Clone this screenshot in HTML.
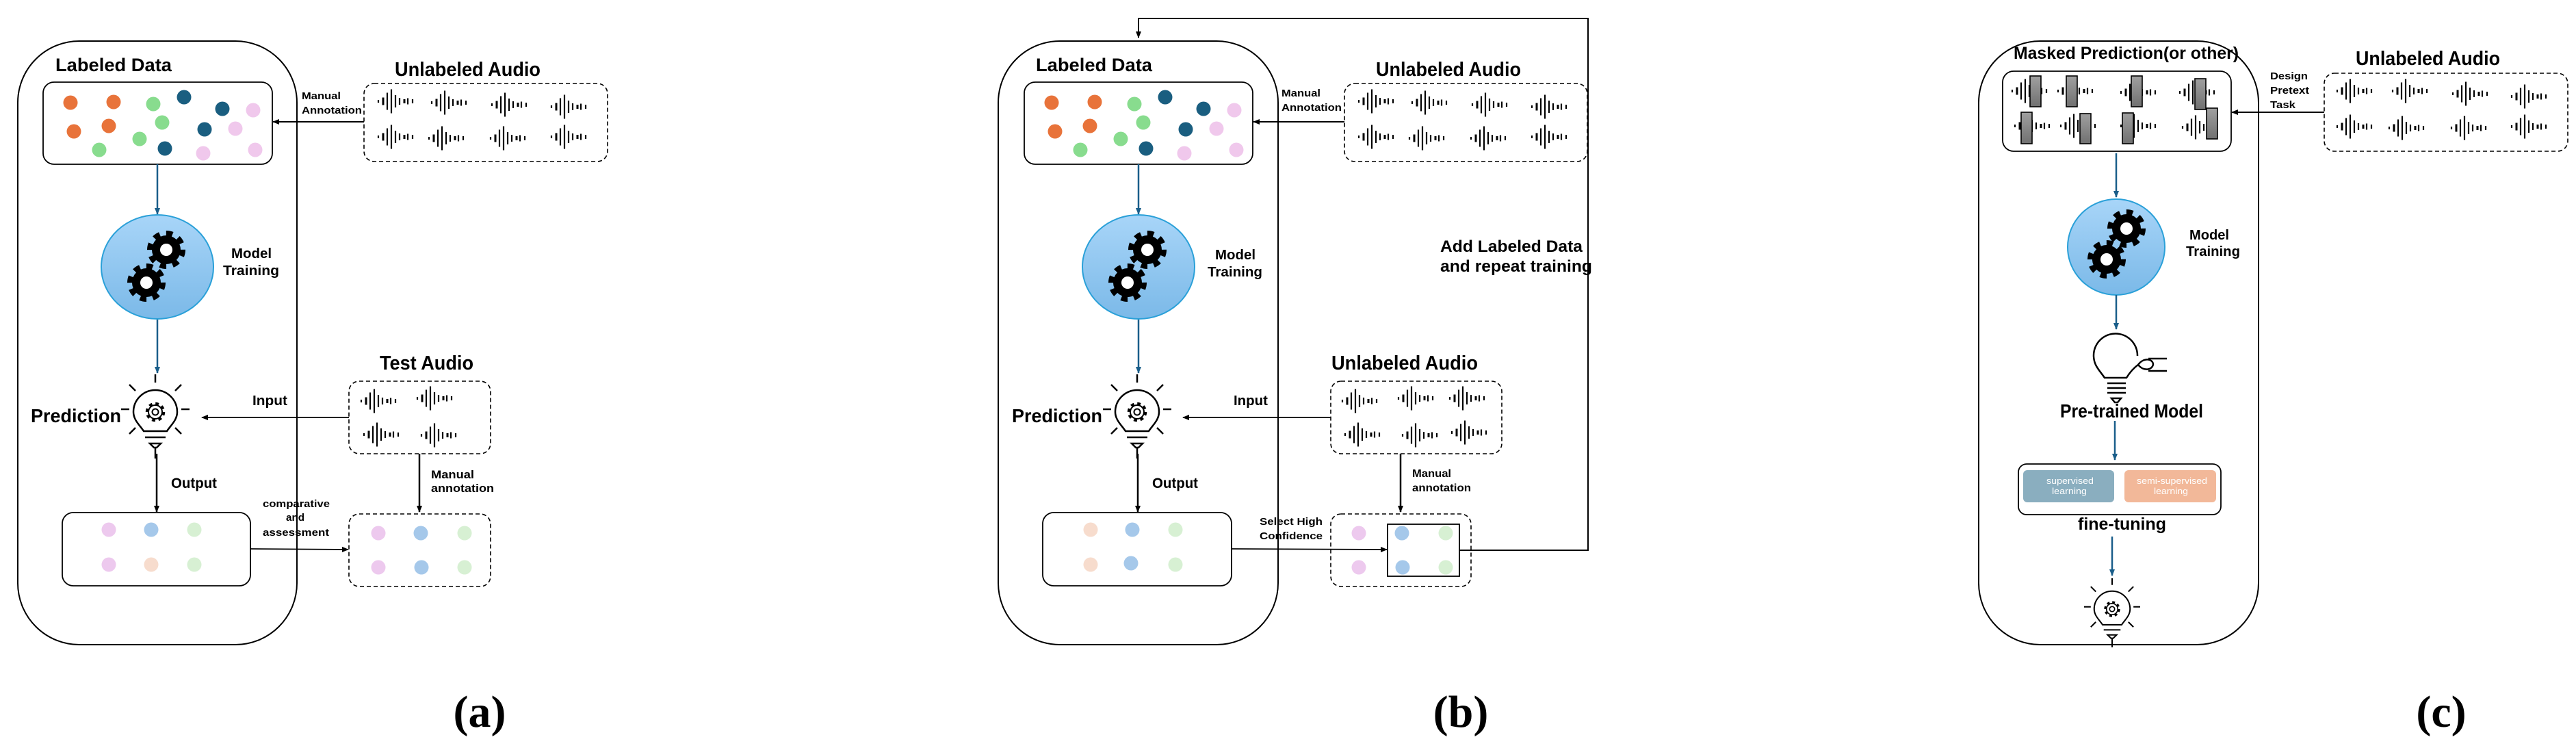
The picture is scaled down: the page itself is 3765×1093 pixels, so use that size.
<!DOCTYPE html>
<html><head><meta charset="utf-8"><style>
html,body{margin:0;padding:0;background:#fff;}
svg{display:block;}
text{font-family:"Liberation Sans",sans-serif;font-weight:bold;fill:#000;}
.cap{font-family:"Liberation Serif",serif;font-weight:bold;}
</style></head><body>
<svg width="3765" height="1093" viewBox="0 0 3765 1093" xmlns="http://www.w3.org/2000/svg">
<defs>
<marker id="ak" markerWidth="10" markerHeight="10" refX="9" refY="5" orient="auto" markerUnits="userSpaceOnUse"><path d="M0,1 L10,5 L0,9 Z" fill="#000"/></marker>
<marker id="ab" markerWidth="10" markerHeight="10" refX="9" refY="5" orient="auto" markerUnits="userSpaceOnUse"><path d="M0,1 L10,5 L0,9 Z" fill="#1a5e8a"/></marker>
<linearGradient id="eg" x1="0" y1="0" x2="0" y2="1"><stop offset="0" stop-color="#a8d5f8"/><stop offset="1" stop-color="#7bb9e8"/></linearGradient>
<linearGradient id="gg" x1="0" y1="0" x2="0" y2="1"><stop offset="0" stop-color="#a0a0a0"/><stop offset="1" stop-color="#707070"/></linearGradient>
<g id="wave" stroke="#000" stroke-width="2.2">
<line x1="0" y1="-2" x2="0" y2="2"/><line x1="7" y1="-5.5" x2="7" y2="5.5" stroke-width="3"/><line x1="13" y1="-12.5" x2="13" y2="12.5"/><line x1="19" y1="-17.5" x2="19" y2="17.5"/><line x1="25" y1="-9" x2="25" y2="9"/><line x1="31" y1="-5" x2="31" y2="5"/><line x1="38" y1="-3" x2="38" y2="3" stroke-width="3"/><line x1="43" y1="-4.5" x2="43" y2="4.5"/><line x1="50" y1="-3" x2="50" y2="3"/>
</g>
<g id="gear">
<circle r="21" fill="#000"/>
<circle r="23.5" fill="none" stroke="#000" stroke-width="9" stroke-dasharray="9.2 9.2"/>
<circle r="9" fill="#fff"/>
</g>
<g id="bulb" fill="none" stroke="#000" stroke-width="2.5">
<path d="M-17,28 C-22,20 -32,12 -32,0 A32,32 0 1 1 32,0 C32,12 22,20 17,28 Z" fill="#fff"/>
<line x1="-15" y1="37" x2="15" y2="37"/>
<path d="M-8,46 L8,46 L2,52 L-2,52 Z"/>
<line x1="0" y1="52" x2="0" y2="68"/>
<line x1="0" y1="-55" x2="0" y2="-43"/>
<line x1="-38" y1="-40" x2="-29" y2="-31"/><line x1="38" y1="-40" x2="29" y2="-31"/>
<line x1="38" y1="-4" x2="50" y2="-4"/><line x1="-38" y1="-4" x2="-50" y2="-4"/>
<line x1="-38" y1="32" x2="-29" y2="23"/><line x1="38" y1="32" x2="29" y2="23"/>
<circle r="12" stroke-width="4.5" stroke-dasharray="4.7 4.7"/>
<circle r="10" fill="#fff" stroke-width="2"/>
<circle r="4.5" stroke-width="2"/>
</g>
</defs>

<!-- ============ PANEL A ============ -->
<rect x="26" y="60" width="408" height="882" rx="90" fill="none" stroke="#000" stroke-width="2"/>
<text x="81" y="104" font-size="27" textLength="170" lengthAdjust="spacingAndGlyphs">Labeled Data</text>
<rect x="63" y="120" width="335" height="120" rx="16" fill="#fff" stroke="#000" stroke-width="1.8"/>
<g>
<circle cx="103" cy="150" r="10.5" fill="#e8733a"/><circle cx="166" cy="149" r="10.5" fill="#e8733a"/><circle cx="224" cy="152" r="10.5" fill="#88dc8e"/><circle cx="269" cy="142" r="10.5" fill="#1a5e80"/><circle cx="325" cy="159" r="10.5" fill="#1a5e80"/><circle cx="370" cy="161" r="10.5" fill="#f0c8ec"/>
<circle cx="108" cy="192" r="10.5" fill="#e8733a"/><circle cx="159" cy="184" r="10.5" fill="#e8733a"/><circle cx="237" cy="179" r="10.5" fill="#88dc8e"/><circle cx="299" cy="189" r="10.5" fill="#1a5e80"/><circle cx="344" cy="188" r="10.5" fill="#f0c8ec"/>
<circle cx="204" cy="203" r="10.5" fill="#88dc8e"/><circle cx="145" cy="219" r="10.5" fill="#88dc8e"/><circle cx="241" cy="217" r="10.5" fill="#1a5e80"/><circle cx="297" cy="224" r="10.5" fill="#f0c8ec"/><circle cx="373" cy="219" r="10.5" fill="#f0c8ec"/>
</g>
<text x="577" y="111" font-size="29" textLength="213" lengthAdjust="spacingAndGlyphs">Unlabeled Audio</text>
<rect x="532" y="122" width="356" height="114" rx="15" fill="none" stroke="#000" stroke-width="1.6" stroke-dasharray="6 4"/>
<use href="#wave" x="553" y="148"/><use href="#wave" x="631" y="150"/><use href="#wave" x="719" y="153"/><use href="#wave" x="806" y="156"/>
<use href="#wave" x="553" y="200"/><use href="#wave" x="627" y="202"/><use href="#wave" x="717" y="202"/><use href="#wave" x="806" y="200"/>
<text x="441" y="145" font-size="15" textLength="57" lengthAdjust="spacingAndGlyphs">Manual</text>
<text x="441" y="166" font-size="15" textLength="88" lengthAdjust="spacingAndGlyphs">Annotation</text>
<line x1="532" y1="178" x2="399" y2="178" stroke="#000" stroke-width="2" marker-end="url(#ak)"/>
<line x1="230" y1="240" x2="230" y2="313" stroke="#1a5e8a" stroke-width="2.5" marker-end="url(#ab)"/>
<ellipse cx="230" cy="390" rx="82" ry="76" fill="url(#eg)" stroke="#2aa0d8" stroke-width="2"/>
<use href="#gear" x="243" y="365"/><use href="#gear" x="214" y="413"/>
<text x="338" y="377" font-size="20" textLength="59" lengthAdjust="spacingAndGlyphs">Model</text>
<text x="326" y="402" font-size="20" textLength="82" lengthAdjust="spacingAndGlyphs">Training</text>
<line x1="230" y1="467" x2="230" y2="545" stroke="#1a5e8a" stroke-width="2.5" marker-end="url(#ab)"/>
<use href="#bulb" x="227" y="602"/>
<text x="45" y="617" font-size="28" textLength="132" lengthAdjust="spacingAndGlyphs">Prediction</text>
<text x="369" y="592" font-size="20" textLength="51" lengthAdjust="spacingAndGlyphs">Input</text>
<line x1="510" y1="610" x2="295" y2="610" stroke="#000" stroke-width="1.8" marker-end="url(#ak)"/>
<text x="555" y="540" font-size="29" textLength="137" lengthAdjust="spacingAndGlyphs">Test Audio</text>
<rect x="510" y="557" width="207" height="106" rx="15" fill="none" stroke="#000" stroke-width="1.6" stroke-dasharray="6 4"/>
<use href="#wave" x="528" y="586"/><use href="#wave" x="610" y="582"/><use href="#wave" x="532" y="635"/><use href="#wave" x="616" y="636"/>
<line x1="613" y1="663" x2="613" y2="748" stroke="#000" stroke-width="2.5" marker-end="url(#ak)"/>
<text x="630" y="699" font-size="17" textLength="63" lengthAdjust="spacingAndGlyphs">Manual</text>
<text x="630" y="719" font-size="17" textLength="92" lengthAdjust="spacingAndGlyphs">annotation</text>
<line x1="229" y1="663" x2="229" y2="748" stroke="#000" stroke-width="2.5" marker-end="url(#ak)"/>
<text x="250" y="713" font-size="21" textLength="67" lengthAdjust="spacingAndGlyphs">Output</text>
<rect x="91" y="749" width="275" height="107" rx="16" fill="#fff" stroke="#000" stroke-width="1.8"/>
<circle cx="159" cy="774" r="10.5" fill="#edc9ee"/><circle cx="221" cy="774" r="10.5" fill="#a5c8ea"/><circle cx="284" cy="774" r="10.5" fill="#d7f0d3"/>
<circle cx="159" cy="825" r="10.5" fill="#edc9ee"/><circle cx="221" cy="825" r="10.5" fill="#f7dccd"/><circle cx="284" cy="825" r="10.5" fill="#d7f0d3"/>
<rect x="510" y="751" width="207" height="106" rx="15" fill="none" stroke="#000" stroke-width="1.6" stroke-dasharray="6 4"/>
<circle cx="553" cy="779" r="10.5" fill="#edc9ee"/><circle cx="615" cy="779" r="10.5" fill="#a5c8ea"/><circle cx="679" cy="779" r="10.5" fill="#d7f0d3"/>
<circle cx="553" cy="829" r="10.5" fill="#edc9ee"/><circle cx="616" cy="829" r="10.5" fill="#a5c8ea"/><circle cx="679" cy="829" r="10.5" fill="#d7f0d3"/>
<line x1="366" y1="802" x2="509" y2="803" stroke="#000" stroke-width="1.8" marker-end="url(#ak)"/>
<text x="384" y="741" font-size="15" textLength="98" lengthAdjust="spacingAndGlyphs">comparative</text>
<text x="418" y="761" font-size="15" textLength="27" lengthAdjust="spacingAndGlyphs">and</text>
<text x="384" y="783" font-size="15" textLength="97" lengthAdjust="spacingAndGlyphs">assessment</text>
<text class="cap" x="701" y="1062" font-size="66" text-anchor="middle">(a)</text>

<!-- ============ PANEL B ============ -->
<polyline points="2133,804 2321,804 2321,27 1664,27 1664,55" fill="none" stroke="#000" stroke-width="2" marker-end="url(#ak)"/>
<rect x="1459" y="60" width="409" height="882" rx="90" fill="none" stroke="#000" stroke-width="2"/>
<text x="1514" y="104" font-size="27" textLength="170" lengthAdjust="spacingAndGlyphs">Labeled Data</text>
<rect x="1497" y="120" width="334" height="120" rx="16" fill="#fff" stroke="#000" stroke-width="1.8"/>
<g transform="translate(1434,0)">
<circle cx="103" cy="150" r="10.5" fill="#e8733a"/><circle cx="166" cy="149" r="10.5" fill="#e8733a"/><circle cx="224" cy="152" r="10.5" fill="#88dc8e"/><circle cx="269" cy="142" r="10.5" fill="#1a5e80"/><circle cx="325" cy="159" r="10.5" fill="#1a5e80"/><circle cx="370" cy="161" r="10.5" fill="#f0c8ec"/>
<circle cx="108" cy="192" r="10.5" fill="#e8733a"/><circle cx="159" cy="184" r="10.5" fill="#e8733a"/><circle cx="237" cy="179" r="10.5" fill="#88dc8e"/><circle cx="299" cy="189" r="10.5" fill="#1a5e80"/><circle cx="344" cy="188" r="10.5" fill="#f0c8ec"/>
<circle cx="204" cy="203" r="10.5" fill="#88dc8e"/><circle cx="145" cy="219" r="10.5" fill="#88dc8e"/><circle cx="241" cy="217" r="10.5" fill="#1a5e80"/><circle cx="297" cy="224" r="10.5" fill="#f0c8ec"/><circle cx="373" cy="219" r="10.5" fill="#f0c8ec"/>
</g>
<text x="2011" y="111" font-size="29" textLength="212" lengthAdjust="spacingAndGlyphs">Unlabeled Audio</text>
<rect x="1965" y="122" width="355" height="114" rx="15" fill="none" stroke="#000" stroke-width="1.6" stroke-dasharray="6 4"/>
<use href="#wave" x="1986" y="148"/><use href="#wave" x="2064" y="150"/><use href="#wave" x="2152" y="153"/><use href="#wave" x="2239" y="156"/>
<use href="#wave" x="1986" y="200"/><use href="#wave" x="2060" y="202"/><use href="#wave" x="2150" y="202"/><use href="#wave" x="2239" y="200"/>
<text x="1873" y="141" font-size="15" textLength="57" lengthAdjust="spacingAndGlyphs">Manual</text>
<text x="1873" y="162" font-size="15" textLength="88" lengthAdjust="spacingAndGlyphs">Annotation</text>
<line x1="1965" y1="178" x2="1832" y2="178" stroke="#000" stroke-width="2" marker-end="url(#ak)"/>
<line x1="1664" y1="240" x2="1664" y2="313" stroke="#1a5e8a" stroke-width="2.5" marker-end="url(#ab)"/>
<ellipse cx="1664" cy="390" rx="82" ry="76" fill="url(#eg)" stroke="#2aa0d8" stroke-width="2"/>
<use href="#gear" x="1677" y="365"/><use href="#gear" x="1648" y="413"/>
<text x="1776" y="379" font-size="20" textLength="59" lengthAdjust="spacingAndGlyphs">Model</text>
<text x="1765" y="404" font-size="20" textLength="80" lengthAdjust="spacingAndGlyphs">Training</text>
<text x="2105" y="368" font-size="24" textLength="208" lengthAdjust="spacingAndGlyphs">Add Labeled Data</text>
<text x="2105" y="397" font-size="24" textLength="222" lengthAdjust="spacingAndGlyphs">and repeat training</text>
<line x1="1664" y1="467" x2="1664" y2="545" stroke="#1a5e8a" stroke-width="2.5" marker-end="url(#ab)"/>
<use href="#bulb" x="1662" y="602"/>
<text x="1479" y="617" font-size="28" textLength="132" lengthAdjust="spacingAndGlyphs">Prediction</text>
<text x="1803" y="592" font-size="20" textLength="50" lengthAdjust="spacingAndGlyphs">Input</text>
<line x1="1945" y1="610" x2="1729" y2="610" stroke="#000" stroke-width="1.8" marker-end="url(#ak)"/>
<text x="1946" y="540" font-size="29" textLength="214" lengthAdjust="spacingAndGlyphs">Unlabeled Audio</text>
<rect x="1945" y="557" width="250" height="106" rx="15" fill="none" stroke="#000" stroke-width="1.6" stroke-dasharray="6 4"/>
<use href="#wave" x="1962" y="586"/><use href="#wave" x="2044" y="582"/><use href="#wave" x="2119" y="582"/>
<use href="#wave" x="1966" y="635"/><use href="#wave" x="2050" y="636"/><use href="#wave" x="2122" y="632"/>
<line x1="2047" y1="663" x2="2047" y2="748" stroke="#000" stroke-width="2.5" marker-end="url(#ak)"/>
<text x="2064" y="697" font-size="16" textLength="57" lengthAdjust="spacingAndGlyphs">Manual</text>
<text x="2064" y="718" font-size="16" textLength="86" lengthAdjust="spacingAndGlyphs">annotation</text>
<line x1="1663" y1="663" x2="1663" y2="748" stroke="#000" stroke-width="2.5" marker-end="url(#ak)"/>
<text x="1684" y="713" font-size="21" textLength="67" lengthAdjust="spacingAndGlyphs">Output</text>
<rect x="1524" y="749" width="276" height="107" rx="16" fill="#fff" stroke="#000" stroke-width="1.8"/>
<circle cx="1594" cy="774" r="10.5" fill="#f7dccd"/><circle cx="1655" cy="774" r="10.5" fill="#a5c8ea"/><circle cx="1718" cy="774" r="10.5" fill="#d7f0d3"/>
<circle cx="1594" cy="825" r="10.5" fill="#f7dccd"/><circle cx="1653" cy="823" r="10.5" fill="#a5c8ea"/><circle cx="1718" cy="825" r="10.5" fill="#d7f0d3"/>
<rect x="1945" y="751" width="205" height="106" rx="15" fill="none" stroke="#000" stroke-width="1.6" stroke-dasharray="6 4"/>
<rect x="2028" y="766" width="105" height="76" fill="#fff" stroke="#000" stroke-width="1.8"/>
<circle cx="1986" cy="779" r="10.5" fill="#edc9ee"/><circle cx="2049" cy="779" r="10.5" fill="#a5c8ea"/><circle cx="2113" cy="779" r="10.5" fill="#d7f0d3"/>
<circle cx="1986" cy="829" r="10.5" fill="#edc9ee"/><circle cx="2050" cy="829" r="10.5" fill="#a5c8ea"/><circle cx="2113" cy="829" r="10.5" fill="#d7f0d3"/>
<line x1="1800" y1="802" x2="2027" y2="803" stroke="#000" stroke-width="1.8" marker-end="url(#ak)"/>
<text x="1841" y="767" font-size="15" textLength="92" lengthAdjust="spacingAndGlyphs">Select High</text>
<text x="1841" y="788" font-size="15" textLength="92" lengthAdjust="spacingAndGlyphs">Confidence</text>
<text class="cap" x="2135" y="1062" font-size="66" text-anchor="middle">(b)</text>

<!-- ============ PANEL C ============ -->
<rect x="2892" y="60" width="409" height="882" rx="90" fill="none" stroke="#000" stroke-width="2"/>
<text x="2943" y="86" font-size="25" textLength="329" lengthAdjust="spacingAndGlyphs">Masked Prediction(or other)</text>
<rect x="2927" y="104" width="334" height="117" rx="16" fill="#fff" stroke="#000" stroke-width="1.8"/>
<use href="#wave" x="2941" y="133"/><use href="#wave" x="3008" y="133"/><use href="#wave" x="3100" y="135"/><use href="#wave" x="3186" y="135"/>
<use href="#wave" x="2945" y="184"/><use href="#wave" x="3012" y="184"/><use href="#wave" x="3100" y="184"/><use href="#wave" x="3190" y="186"/>
<g fill="url(#gg)" stroke="#000" stroke-width="1.6">
<rect x="2967" y="111" width="16" height="45"/><rect x="3020" y="111" width="16" height="45"/><rect x="3115" y="111" width="16" height="45"/><rect x="3208" y="115" width="16" height="45"/>
<rect x="2954" y="164" width="16" height="46"/><rect x="3040" y="166" width="16" height="44"/><rect x="3102" y="165" width="16" height="45"/><rect x="3225" y="158" width="16" height="45"/>
</g>
<text x="3443" y="95" font-size="29" textLength="211" lengthAdjust="spacingAndGlyphs">Unlabeled Audio</text>
<rect x="3397" y="107" width="356" height="114" rx="15" fill="none" stroke="#000" stroke-width="1.6" stroke-dasharray="6 4"/>
<use href="#wave" x="3416" y="133"/><use href="#wave" x="3497" y="133"/><use href="#wave" x="3585" y="137"/><use href="#wave" x="3671" y="141"/>
<use href="#wave" x="3416" y="185"/><use href="#wave" x="3492" y="187"/><use href="#wave" x="3583" y="187"/><use href="#wave" x="3671" y="185"/>
<text x="3318" y="116" font-size="15" textLength="55" lengthAdjust="spacingAndGlyphs">Design</text>
<text x="3318" y="137" font-size="15" textLength="57" lengthAdjust="spacingAndGlyphs">Pretext</text>
<text x="3318" y="158" font-size="15" textLength="37" lengthAdjust="spacingAndGlyphs">Task</text>
<line x1="3397" y1="164" x2="3262" y2="164" stroke="#000" stroke-width="2" marker-end="url(#ak)"/>
<line x1="3093" y1="224" x2="3093" y2="288" stroke="#1a5e8a" stroke-width="2.5" marker-end="url(#ab)"/>
<ellipse cx="3093" cy="361" rx="71" ry="70" fill="url(#eg)" stroke="#2aa0d8" stroke-width="2"/>
<use href="#gear" x="3108" y="334"/><use href="#gear" x="3079" y="379"/>
<text x="3200" y="350" font-size="20" textLength="58" lengthAdjust="spacingAndGlyphs">Model</text>
<text x="3195" y="374" font-size="20" textLength="79" lengthAdjust="spacingAndGlyphs">Training</text>
<line x1="3093" y1="431" x2="3093" y2="481" stroke="#1a5e8a" stroke-width="2.5" marker-end="url(#ab)"/>
<g fill="none" stroke="#000" stroke-width="2.5">
<path d="M3124,520 A32,32 0 1 0 3064,535 C3068,542 3072,546 3076,552 L3108,552 C3113,544 3118,538 3125,533"/>
<path d="M3125,533 C3133,522 3146,524 3147,532 C3146,541 3133,543 3125,533 Z"/>
<line x1="3140" y1="524" x2="3167" y2="524"/><line x1="3140" y1="542" x2="3167" y2="542"/>
<line x1="3080" y1="560" x2="3107" y2="560"/><line x1="3080" y1="567" x2="3107" y2="567"/><line x1="3080" y1="574" x2="3107" y2="574"/>
<path d="M3086,582 L3100,582 L3095,588 L3091,588 Z"/>
</g>
<text x="3011" y="610" font-size="28" textLength="209" lengthAdjust="spacingAndGlyphs">Pre-trained Model</text>
<line x1="3091" y1="615" x2="3091" y2="672" stroke="#1a5e8a" stroke-width="2.5" marker-end="url(#ab)"/>
<rect x="2950" y="678" width="296" height="74" rx="12" fill="#fff" stroke="#000" stroke-width="1.8"/>
<rect x="2957" y="687" width="133" height="47" rx="6" fill="#8aaebf"/>
<rect x="3105" y="687" width="134" height="47" rx="6" fill="#f2b899"/>
<text x="2991" y="707" font-size="13" style="font-weight:normal;fill:#fff" textLength="69" lengthAdjust="spacingAndGlyphs">supervised</text>
<text x="2999" y="722" font-size="13" style="font-weight:normal;fill:#fff" textLength="51" lengthAdjust="spacingAndGlyphs">learning</text>
<text x="3123" y="707" font-size="13" style="font-weight:normal;fill:#fff" textLength="103" lengthAdjust="spacingAndGlyphs">semi-supervised</text>
<text x="3148" y="722" font-size="13" style="font-weight:normal;fill:#fff" textLength="50" lengthAdjust="spacingAndGlyphs">learning</text>
<text x="3037" y="774" font-size="25" textLength="129" lengthAdjust="spacingAndGlyphs">fine-tuning</text>
<line x1="3087" y1="784" x2="3087" y2="841" stroke="#1a5e8a" stroke-width="2.5" marker-end="url(#ab)"/>
<g transform="translate(3087,890) scale(0.82)"><use href="#bulb"/></g>
<text class="cap" x="3568" y="1062" font-size="66" text-anchor="middle">(c)</text>
</svg>
</body></html>
